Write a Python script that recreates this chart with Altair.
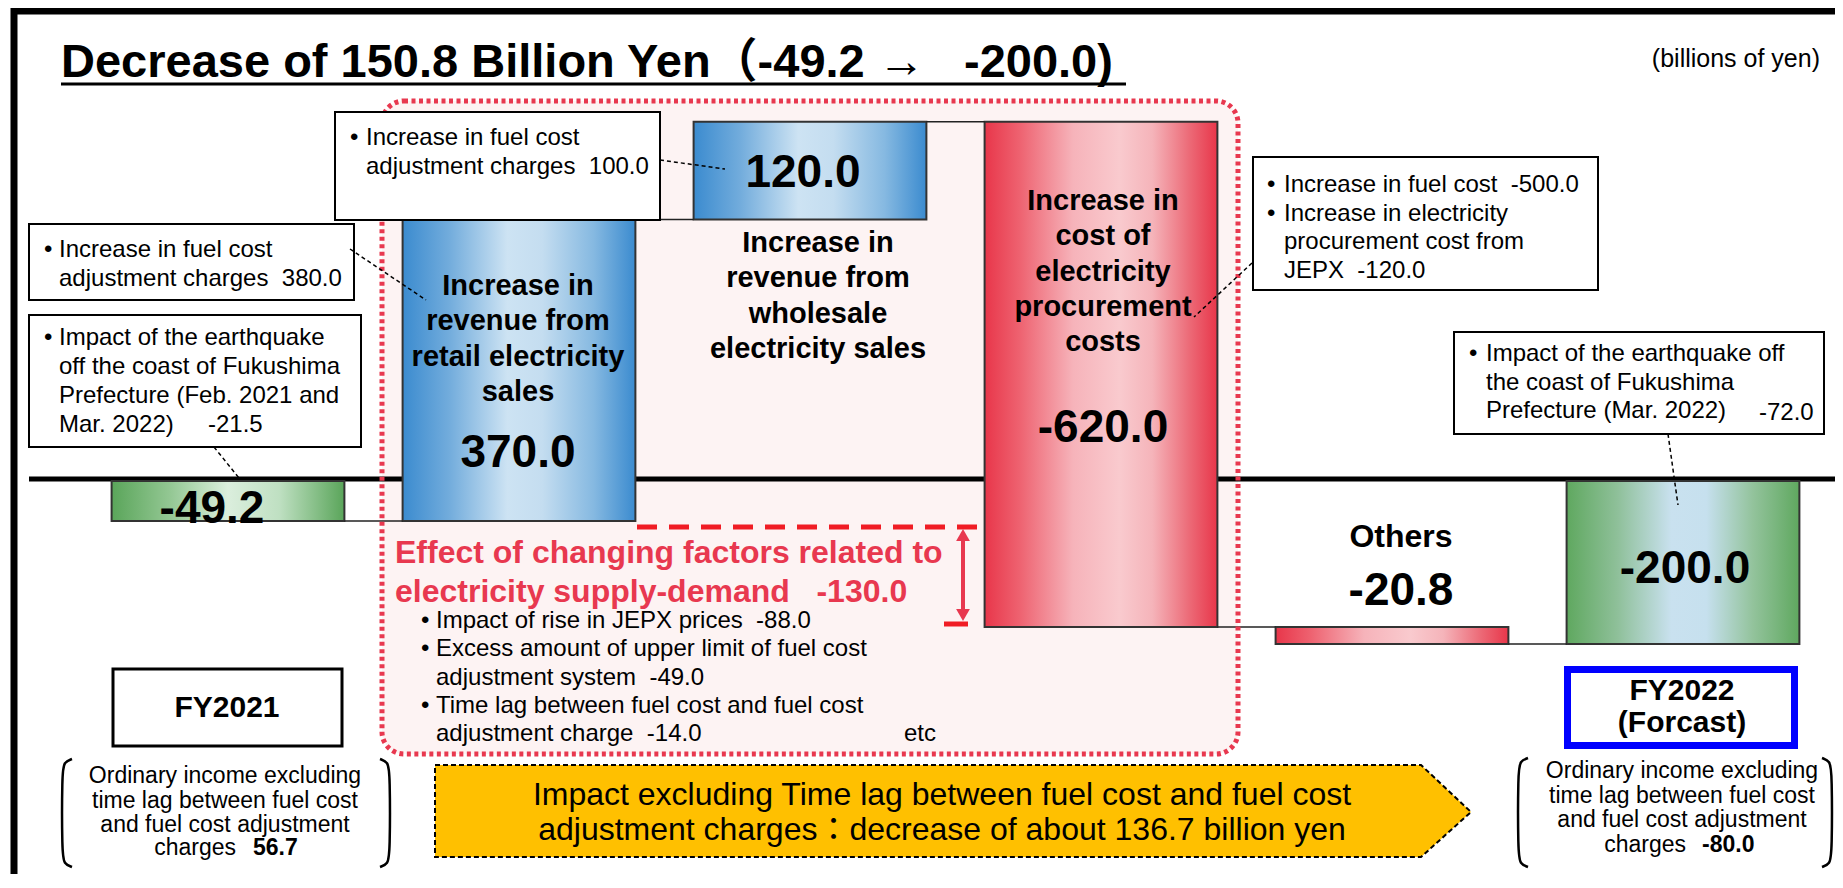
import altair as alt
import pandas as pd

FONT = "Liberation Sans, Arial, Noto Sans CJK JP, sans-serif"
NB = "\u00a0"

# ---------------- chart data ----------------
steps = ["FY2021", "Retail electricity sales", "Wholesale electricity sales",
         "Electricity procurement costs", "Others", "FY2022 (Forcast)"]
deltas = [-49.2, 370.0, 120.0, -620.0, -20.8, -200.0]
kinds = ["start", "up", "up", "down", "down", "end"]
step_lines = [[],
              ["Increase in", "revenue from", "retail electricity", "sales"],
              ["Increase in", "revenue from", "wholesale", "electricity sales"],
              ["Increase in", "cost of", "electricity", "procurement", "costs"],
              ["Others"],
              []]

title_text = "Decrease of 150.8 Billion Yen（-49.2 →" + NB + NB + " -200.0)"
unit_text = "(billions of yen)"
box_a = ["Increase in fuel cost", "adjustment charges" + NB + " 100.0"]
box_b = ["Increase in fuel cost", "adjustment charges" + NB + " 380.0"]
box_c = ["Impact of the earthquake", "off the coast of Fukushima", "Prefecture (Feb. 2021 and", "Mar. 2022)"]
box_c_val = "-21.5"
box_d = ["Increase in fuel cost" + NB + " -500.0", "Increase in electricity", "procurement cost from", "JEPX" + NB + " -120.0"]
box_e = ["Impact of the earthquake off", "the coast of Fukushima", "Prefecture (Mar. 2022)"]
box_e_val = "-72.0"
effect_title = ["Effect of changing factors related to", "electricity supply-demand" + NB + NB + " -130.0"]
effect_items = ["Impact of rise in JEPX prices" + NB + " -88.0",
                "Excess amount of upper limit of fuel cost",
                "adjustment system" + NB + " -49.0",
                "Time lag between fuel cost and fuel cost",
                "adjustment charge" + NB + " -14.0"]
effect_bullet = [True, True, False, True, False]
fy_left = ["FY2021"]
fy_right = ["FY2022", "(Forcast)"]
note_lines = ["Ordinary income excluding", "time lag between fuel cost", "and fuel cost adjustment"]
note_left_val = "56.7"
note_right_val = "-80.0"
arrow_lines = ["Impact excluding Time lag between fuel cost and fuel cost",
               "adjustment charges：decrease of about 136.7 billion yen"]

# ---------------- layout (reference pixel space) ----------------
W, H = 1827, 866
X0, XS = 220.0, 291.0      # chart px of step 0 centre, px per step
Y0, YS = 473.0, 0.815      # chart px of value 0, px per billion yen
HALF = 0.4


def fx(p):
    return (p - 8 - X0) / XS


def fy(p):
    return (Y0 - (p - 8)) / YS


xs = alt.Scale(domain=[-X0 / XS, (W - X0) / XS], nice=False, zero=False)
ys = alt.Scale(domain=[(Y0 - H) / YS, Y0 / YS], nice=False, zero=False)


def XE(f):
    return alt.X(f, type="quantitative", scale=xs, axis=None)


def YE(f):
    return alt.Y(f, type="quantitative", scale=ys, axis=None)


def texts(rows, size, weight="normal", color="black", align="left"):
    df = pd.DataFrame([{"x": fx(a), "y": fy(b), "t": t} for a, b, t in rows])
    return alt.Chart(df).mark_text(fontSize=size, fontWeight=weight, color=color, align=align,
                                   baseline="alphabetic", font=FONT).encode(
        x=XE("x"), y=YE("y"), text="t:N")


def rects(rows, **kw):
    df = pd.DataFrame([{"x": fx(a), "y": fy(b), "x2": fx(c), "y2": fy(d)} for a, b, c, d in rows])
    return alt.Chart(df).mark_rect(**kw).encode(x=XE("x"), x2="x2:Q", y=YE("y"), y2="y2:Q")


def rules(rows, **kw):
    df = pd.DataFrame([{"x": fx(a), "y": fy(b), "x2": fx(c), "y2": fy(d)} for a, b, c, d in rows])
    return alt.Chart(df).mark_rule(**kw).encode(x=XE("x"), x2="x2:Q", y=YE("y"), y2="y2:Q")


def polylines(lines, **kw):
    recs = []
    for g, pts in enumerate(lines):
        for o, (a, b) in enumerate(pts):
            recs.append({"x": fx(a), "y": fy(b), "g": g, "o": o})
    return alt.Chart(pd.DataFrame(recs)).mark_line(**kw).encode(
        x=XE("x"), y=YE("y"), detail="g:N", order="o:Q")


def grad(stops):
    return {"gradient": "linear", "x1": 0, "y1": 0, "x2": 1, "y2": 0,
            "stops": [{"offset": o, "color": c} for o, c in stops]}


# ---------------- waterfall table ----------------
rows = []
run = 0.0
for i, (s, d, k) in enumerate(zip(steps, deltas, kinds)):
    if k in ("start", "end"):
        lo, hi = 0.0, d
        run = d
    else:
        lo, hi = run, run + d
        run = run + d
    rows.append(dict(idx=i, step=s, kind=k, start=lo, end=hi, label=f"{d:.1f}"))
wf = pd.DataFrame(rows)

fills = {
    "up": grad([(0, "#3b8bcf"), (0.2, "#72acdc"), (0.45, "#cde3f3"), (0.6, "#c4ddf0"), (0.82, "#86b9e1"), (1, "#3b8bcf")]),
    "down": grad([(0, "#e8364a"), (0.15, "#ee6270"), (0.38, "#f6b3ba"), (0.58, "#f9cace"), (0.72, "#f5b4ba"), (0.88, "#ec6a77"), (1, "#e8364a")]),
    "start": grad([(0, "#5aa55a"), (0.25, "#93c793"), (0.5, "#dbeedd"), (0.72, "#bfe0c2"), (1, "#5aa55a")]),
    "end": grad([(0, "#5fa85f"), (0.22, "#8fc09a"), (0.45, "#c9e1ef"), (0.6, "#c6e0ee"), (0.8, "#93c39c"), (1, "#5fa85f")]),
}


def bar_layer(kind):
    return alt.Chart(wf).transform_filter(alt.datum.kind == kind).transform_calculate(
        xl=f"datum.idx - {HALF}", xr=f"datum.idx + {HALF}").mark_rect(
        fill=fills[kind], stroke="#333333", strokeWidth=2).encode(
        x=XE("xl"), x2="xr:Q", y=YE("start"), y2="end:Q")


connectors = alt.Chart(wf).transform_filter(alt.datum.idx < len(steps) - 1).transform_calculate(
    xa=f"datum.idx + {HALF}", xb=f"datum.idx + 1 - {HALF}").mark_rule(
    color="#222222", strokeWidth=1.5).encode(x=XE("xa"), x2="xb:Q", y=YE("end"))

# value labels
val_pos = [(212, 523), (518, 467), (803, 187), (1103, 442), (1401, 605), (1685, 583)]
value_labels = texts([(p[0], p[1], lab) for p, lab in zip(val_pos, wf["label"])], 46, "bold", align="center")

# category labels
cat_pos = [None, (518, 295), (818, 252), (1103, 210), (1401, 547), None]
cat_rows_main = []
cat_rows_other = []
for lines, pos in zip(step_lines, cat_pos):
    if not lines:
        continue
    for j, ln in enumerate(lines):
        r = (pos[0], pos[1] + 35.3 * j, ln)
        (cat_rows_other if ln == "Others" else cat_rows_main).append(r)
cat_labels = texts(cat_rows_main, 29, "bold", align="center")
others_label = texts(cat_rows_other, 32, "bold", align="center")

# frame lines
pink_fill = rects([(382, 101, 1238, 754)], fill="#fdf3f3", cornerRadius=22)
pink_border = rects([(382, 101, 1238, 754)], fill="white", fillOpacity=0, stroke="#e8384f",
                    strokeWidth=5, strokeDash=[4, 3.5], cornerRadius=22)
frame = rules([(12, 11, 1835, 11), (14, 8, 14, 874)], color="black", strokeWidth=7)
baseline = rules([(29, 479, 1835, 479)], color="black", strokeWidth=5)

# title
title = texts([(61, 77, title_text)], 47, "bold")
underline = rules([(61, 84, 1126, 84)], color="black", strokeWidth=3)
unit = texts([(1820, 67, unit_text)], 25, align="right")

# annotation boxes
boxes = rects([(335, 112, 660, 220), (29, 224, 354, 300), (29, 315, 361, 447),
               (1253, 157, 1598, 290), (1454, 332, 1824, 434)],
              fill="white", stroke="black", strokeWidth=2)
box_rows = []
bullet_rows = []
for lines, bx, tx, y0, bul in [(box_a, 350, 366, 145, [0]), (box_b, 44, 59, 257, [0]),
                               (box_c, 44, 59, 345, [0]), (box_d, 1267, 1284, 192, [0, 1]),
                               (box_e, 1469, 1486, 361, [0])]:
    step_h = 28.7 if bx in (1267, 1469) else 29
    for j, ln in enumerate(lines):
        box_rows.append((tx, y0 + step_h * j, ln))
        if j in bul:
            bullet_rows.append((bx, y0 + step_h * j, "•"))
box_rows.append((208, 432, box_c_val))
box_rows.append((1759, 420, box_e_val))
box_texts = texts(box_rows, 24)
box_bullets = texts(bullet_rows, 24)

leaders = rules([(660, 160, 725, 169), (350, 249, 426, 300), (214, 447, 239, 478),
                 (1252, 263, 1194, 317), (1668, 434, 1678, 505)],
                color="black", strokeWidth=1.5, strokeDash=[4, 3])

# effect block
effect_t = texts([(395, 563, effect_title[0]), (395, 602, effect_title[1])], 32, "bold", color="#e8384f")
eff_rows = []
eff_bul = []
for j, (ln, b) in enumerate(zip(effect_items, effect_bullet)):
    yy = 628 + 28.3 * j
    eff_rows.append((436, yy, ln))
    if b:
        eff_bul.append((421, yy, "•"))
eff_rows.append((904, 741, "etc"))
effect_items_l = texts(eff_rows, 24)
effect_bul_l = texts(eff_bul, 24)
red_dash = rules([(637, 527, 984, 527)], color="#f01c24", strokeWidth=5, strokeDash=[20, 12])
red_tick = rules([(944, 624, 968, 624)], color="#f01c24", strokeWidth=5)
arrow_shaft = rules([(963, 536, 963, 614)], color="#e8384f", strokeWidth=4)
heads_df = pd.DataFrame({"x": [fx(963), fx(963)], "y": [fy(535), fy(615)],
                         "s": ["triangle-up", "triangle-down"]})
arrow_heads = alt.Chart(heads_df).mark_point(filled=True, color="#e8384f", size=190, opacity=1).encode(
    x=XE("x"), y=YE("y"), shape=alt.Shape("s:N", scale=None))

# bottom labels
fy_boxes = rects([(113, 669, 342, 746)], fill="white", stroke="black", strokeWidth=3)
fy_box2 = rects([(1567.5, 669.5, 1794.5, 745.5)], fill="white", stroke="#0000ff", strokeWidth=7)
fy_texts = texts([(227, 717, fy_left[0]), (1682, 700, fy_right[0]), (1682, 732, fy_right[1])],
                 30, "bold", align="center")


def bracket(xv, top, bot, d):
    return [(xv + 10 * d, top), (xv + 2 * d, top + 3), (xv, top + 14),
            (xv, bot - 14), (xv + 2 * d, bot - 3), (xv + 10 * d, bot)]


brackets = polylines([bracket(62, 759, 867, 1), bracket(390, 759, 867, -1),
                      bracket(1518, 758, 867, 1), bracket(1832, 758, 867, -1)],
                     color="black", strokeWidth=2.5, interpolate="basis")
note_rows = []
for j, ln in enumerate(note_lines):
    note_rows.append((225, 783 + 24.5 * j, ln))
    note_rows.append((1682, 778 + 24.7 * j, ln))
note_texts = texts(note_rows, 23, align="center")
note_ch = texts([(236, 855, "charges"), (1686, 852, "charges")], 23, align="right")
note_vals = texts([(253, 855, note_left_val), (1702, 852, note_right_val)], 23, "bold")

# yellow arrow
ya = pd.DataFrame({"x": [fx(435), fx(1421), fx(1471)], "y": [fy(765), fy(765), fy(812)],
                   "y2": [fy(857), fy(857), fy(812)]})
yellow = alt.Chart(ya).mark_area(color="#ffc000", opacity=1).encode(x=XE("x"), y=YE("y"), y2="y2:Q")
yellow_outline = polylines([[(435, 765), (1421, 765), (1471, 812), (1421, 857), (435, 857), (435, 765)]],
                           color="black", strokeWidth=2, strokeDash=[5, 3])
yellow_text = texts([(942, 805, arrow_lines[0]), (942, 840, arrow_lines[1])], 32, align="center")

chart = alt.layer(
    pink_fill, frame, baseline,
    bar_layer("start"), bar_layer("up"), bar_layer("down"), bar_layer("end"),
    connectors, value_labels, cat_labels, others_label,
    pink_border, boxes, box_texts, box_bullets, leaders,
    red_dash, red_tick, arrow_shaft, arrow_heads, effect_t, effect_items_l, effect_bul_l,
    fy_boxes, fy_box2, fy_texts, brackets, note_texts, note_ch, note_vals,
    yellow, yellow_outline, yellow_text,
    title, underline, unit,
).properties(width=W, height=H, padding=0, autosize="none", background="white").configure_view(stroke=None)

chart.save("out.html", embed_options={"renderer": "svg", "actions": False})
